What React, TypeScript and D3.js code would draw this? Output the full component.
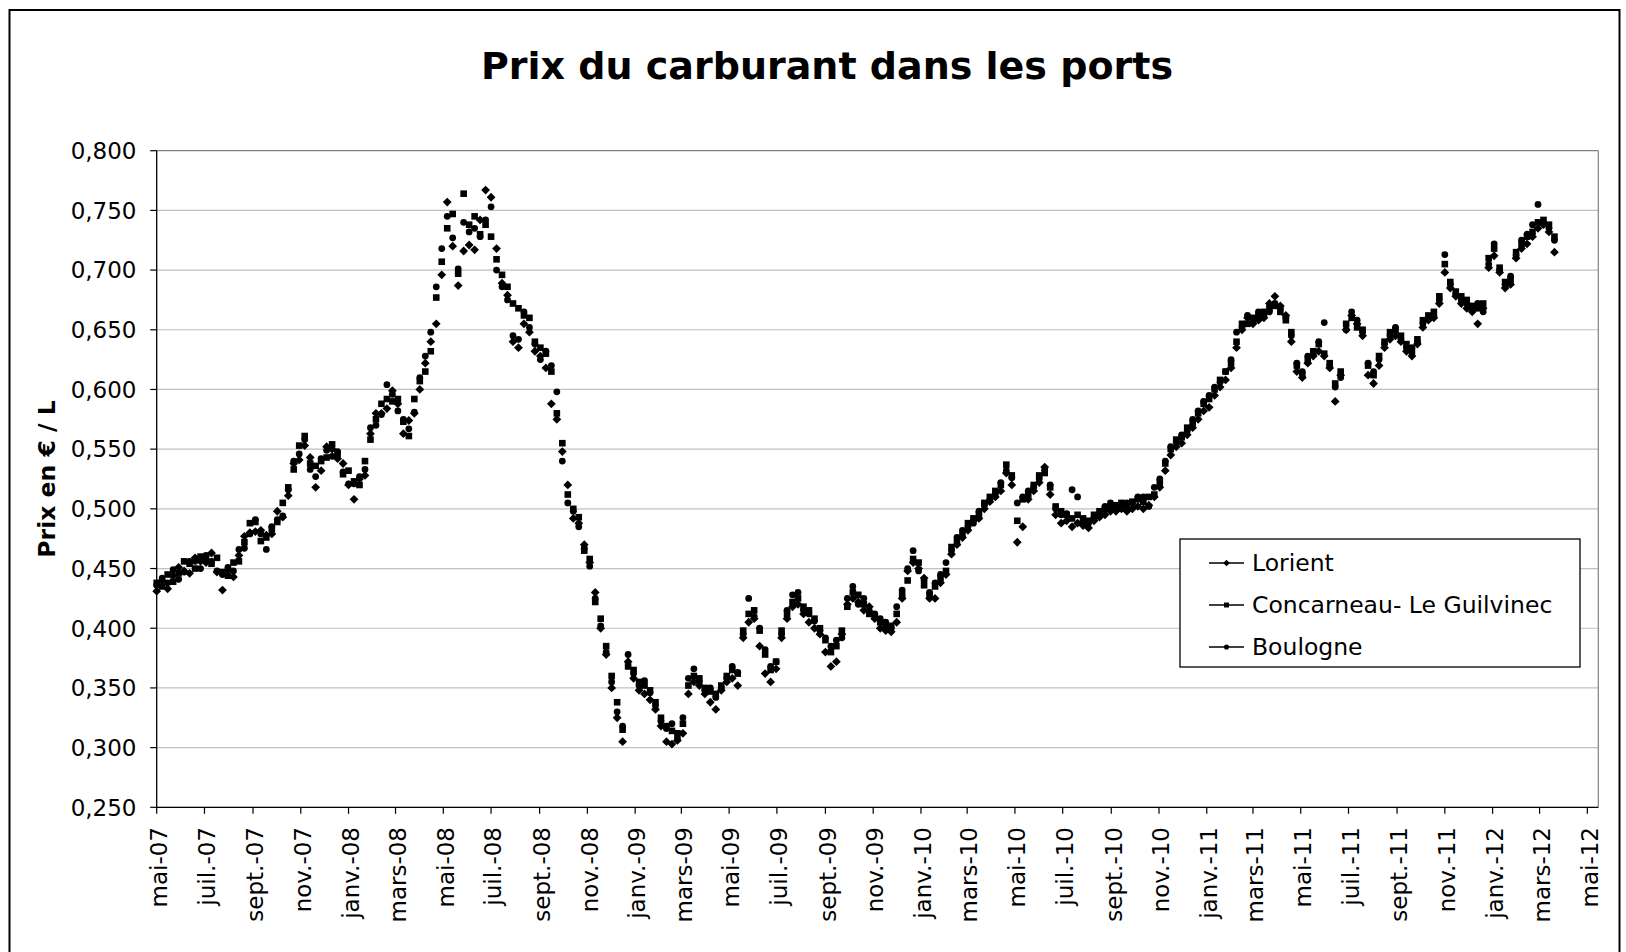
import React from 'react';
import * as d3 from 'd3';

const TITLE = 'Prix du carburant dans les ports';
const Y_LABEL = 'Prix en € / L';
const SERIES_NAMES = ['Lorient', 'Concarneau- Le Guilvinec', 'Boulogne'];
const FIRST_WEEK = new Date(2007, 4, 1);
const X_START = new Date(2007, 4, 1);
const X_END = new Date(2012, 4, 15);
const Y_TICKS = [0.25, 0.3, 0.35, 0.4, 0.45, 0.5, 0.55, 0.6, 0.65, 0.7, 0.75, 0.8];
const MONTH_ABBR = ['janv.', 'févr.', 'mars', 'avr.', 'mai', 'juin', 'juil.', 'août', 'sept.', 'oct.', 'nov.', 'déc.'];

// weekly readings, starting 1 May 2007
const lorient = [
  .431, .440, .433, .444, .451, .448, .446, .459, .456, .455, .463, .447,
  .432, .449, .443, .461, .477, .480, .481, .482, .478, .479, .498, .493,
  .511, .538, .541, .553, .543, .518, .532, .552, .550, .542, .538, .520,
  .508, .525, .528, .563, .580, .580, .584, .599, .588, .563, .574, .580,
  .600, .622, .640, .655, .696, .757, .720, .687, .716, .721, .717, .742, .767, .761, .718, .689, .679,
  .640, .635, .655, .648, .632, .628, .618, .588, .575, .548, .520, .492, .488, .470, .455,
  .430, .400, .378, .350, .325, .305, .372, .358, .348, .345, .340, .332, .318, .305, .303, .306, .312, .345, .355, .352,
  .345, .338, .332, .348, .355, .358, .352, .392, .405, .408, .385, .362, .355, .366, .392, .408, .418, .420, .412, .405,
  .400, .395, .380, .368, .372, .395, .420, .425, .422, .415, .418, .408, .400, .398, .397, .405, .425, .448, .455, .450,
  .442, .425, .425, .438, .445, .462, .470, .476, .482, .490, .492, .500, .506, .510, .515, .530, .520, .472, .485, .508,
  .515, .522, .535, .512, .495, .488, .490, .485, .488, .486, .484, .490, .493, .495, .498, .498, .500, .498, .500, .502,
  .500, .503, .510, .518, .532, .545, .552, .555, .562, .568, .575, .582, .585, .595, .602, .608, .618, .635, .650, .660,
  .655, .658, .660, .672, .678, .670, .662, .640, .615, .610, .622, .628, .632, .628, .618, .590, .612, .650, .662, .655,
  .645, .612, .605, .620, .635, .642, .645, .640, .632, .628, .638, .652, .658, .660, .672, .698, .685, .678, .672, .668,
  .665, .655, .668, .702, .712, .698, .685, .688, .710, .718, .722, .728, .735, .738, .732, .715,
];

const concarneau = [
  .438, .435, .445, .439, .446, .456, .454, .450, .460, .459, .454, .459,
  .447, .444, .455, .456, .472, .488, .489, .473, .476, .483, .489, .505,
  .518, .533, .553, .561, .538, .536, .540, .543, .554, .546, .529, .532,
  .523, .520, .540, .558, .575, .588, .592, .590, .592, .573, .561, .592,
  .607, .615, .632, .677, .707, .735, .747, .697, .764, .738, .745, .730, .738, .728, .709, .696, .686,
  .672, .668, .662, .660, .640, .635, .630, .615, .580, .555, .512, .500, .493, .465, .458,
  .422, .408, .385, .360, .338, .315, .368, .365, .355, .352, .348, .338, .325, .318, .314, .312, .320, .352, .360, .358,
  .350, .347, .345, .352, .360, .365, .362, .398, .412, .415, .398, .378, .365, .372, .398, .412, .422, .425, .418, .415,
  .408, .400, .390, .380, .385, .398, .418, .430, .428, .420, .412, .410, .405, .402, .402, .412, .428, .440, .458, .455,
  .436, .428, .435, .442, .448, .468, .472, .478, .488, .492, .495, .505, .510, .515, .520, .537, .528, .490, .508, .512,
  .520, .528, .530, .518, .502, .498, .495, .492, .495, .492, .490, .495, .498, .500, .502, .503, .505, .502, .506, .508,
  .506, .510, .512, .522, .538, .550, .558, .560, .568, .572, .580, .588, .592, .600, .608, .615, .622, .640, .655, .655,
  .660, .662, .665, .668, .670, .665, .658, .648, .620, .612, .625, .632, .638, .630, .622, .605, .615, .655, .660, .652,
  .650, .620, .612, .628, .640, .648, .650, .645, .638, .632, .642, .658, .662, .665, .678, .705, .690, .682, .678, .675,
  .670, .668, .672, .710, .718, .702, .690, .692, .715, .722, .728, .732, .740, .742, .738, .728,
];

const boulogne = [
  .436, .442, .438, .449, .441, .447, .456, .456, .450, .461, .456, .448,
  .445, .451, .448, .466, .467, .479, .491, .479, .466, .485, .491, .494,
  .516, .540, .546, .558, .533, .527, .542, .549, .544, .548, .531, .521,
  .521, .527, .533, .568, .570, .579, .604, .596, .582, .575, .567, .581,
  .610, .628, .648, .686, .718, .745, .727, .701, .740, .732, .735, .728, .742, .753, .700, .686, .675,
  .645, .642, .665, .652, .638, .625, .632, .620, .598, .540, .505, .498, .485, .467, .452,
  .425, .402, .380, .355, .330, .318, .378, .362, .352, .356, .346, .335, .322, .316, .320, .308, .325, .358, .366, .355,
  .348, .350, .342, .350, .358, .368, .363, .395, .425, .410, .400, .382, .368, .372, .395, .415, .428, .430, .415, .412,
  .406, .398, .392, .385, .390, .392, .425, .435, .420, .425, .415, .412, .408, .405, .400, .418, .432, .450, .465, .448,
  .440, .430, .438, .445, .455, .465, .476, .482, .485, .488, .498, .503, .508, .512, .522, .532, .526, .505, .510, .515,
  .518, .525, .533, .520, .500, .495, .496, .516, .510, .490, .488, .493, .496, .502, .505, .500, .503, .505, .505, .510,
  .510, .502, .518, .525, .540, .552, .556, .562, .565, .575, .582, .590, .595, .602, .606, .615, .625, .648, .652, .662,
  .658, .665, .662, .665, .672, .668, .660, .645, .622, .615, .628, .630, .640, .656, .620, .602, .610, .650, .665, .658,
  .648, .622, .615, .625, .638, .645, .652, .642, .635, .635, .640, .655, .660, .662, .675, .713, .688, .680, .675, .672,
  .668, .672, .665, .705, .722, .700, .688, .695, .712, .725, .730, .738, .755, .740, .735, .725,
];

const W = 1626;
const H = 952;
const PLOT = { left: 156.7, right: 1598.3, top: 150.7, bottom: 807.3 };
const FONT = '"DejaVu Sans", Verdana, sans-serif';

const x = d3.scaleTime().domain([X_START, X_END]).range([PLOT.left, PLOT.right]);
const y = d3.scaleLinear().domain([0.25, 0.8]).range([PLOT.bottom, PLOT.top]);

const weekDate = (i: number) => d3.timeDay.offset(FIRST_WEEK, 7 * i);
const xTicks = d3.timeMonth.every(2)!.range(X_START, d3.timeDay.offset(X_END, 1));
const fmtX = (d: Date) => `${MONTH_ABBR[d.getMonth()]}-${String(d.getFullYear()).slice(2)}`;
const fmtY = (v: number) => d3.format('.3f')(v).replace('.', ',');

function Marker({ kind, cx, cy, s = 1 }: { kind: number; cx: number; cy: number; s?: number }) {
  if (kind === 0) {
    const r = 4.4 * s;
    return <path d={`M${cx},${cy - r}L${cx + r},${cy}L${cx},${cy + r}L${cx - r},${cy}Z`} fill="#000" />;
  }
  if (kind === 1) {
    const h = 3.3 * s;
    return <rect x={cx - h} y={cy - h} width={2 * h} height={2 * h} fill="#000" />;
  }
  return <circle cx={cx} cy={cy} r={3.4 * s} fill="#000" />;
}

export default function App() {
  const series = [lorient, concarneau, boulogne];
  const legendY = [563, 605, 647];
  return (
    <svg width={W} height={H} style={{ position: 'absolute', left: 0, top: 0, background: '#fff' }} fontFamily={FONT}>
      <rect x={0} y={0} width={W} height={H} fill="#fff" />
      <rect x={9.5} y={10} width={1610} height={960} fill="none" stroke="#000" strokeWidth={2} />
      <text x={827} y={79} textAnchor="middle" fontSize={38} fontWeight="bold">{TITLE}</text>

      {/* gridlines */}
      {Y_TICKS.map((t) => (
        <line key={'g' + t} x1={PLOT.left} x2={PLOT.right} y1={y(t)} y2={y(t)}
          stroke={t === 0.8 ? '#808080' : '#c0c0c0'} strokeWidth={1.2} />
      ))}
      <line x1={PLOT.right} x2={PLOT.right} y1={PLOT.top} y2={PLOT.bottom} stroke="#808080" strokeWidth={1.2} />

      {/* axes */}
      <line x1={PLOT.left} x2={PLOT.left} y1={PLOT.top} y2={PLOT.bottom} stroke="#000" strokeWidth={1.3} />
      <line x1={PLOT.left} x2={PLOT.right} y1={PLOT.bottom} y2={PLOT.bottom} stroke="#000" strokeWidth={1.3} />
      {Y_TICKS.map((t) => (
        <g key={'yt' + t}>
          <line x1={PLOT.left - 6.5} x2={PLOT.left} y1={y(t)} y2={y(t)} stroke="#000" strokeWidth={1.2} />
          <text x={136.5} y={y(t)} dy="0.36em" textAnchor="end" fontSize={23}>{fmtY(t)}</text>
        </g>
      ))}
      {xTicks.map((d) => (
        <g key={'xt' + d.getTime()}>
          <line x1={x(d)} x2={x(d)} y1={PLOT.bottom} y2={PLOT.bottom + 6.5} stroke="#000" strokeWidth={1.2} />
          <text transform={`translate(${x(d) + 2},${827}) rotate(-90)`} dy="0.36em" textAnchor="end" fontSize={23}>{fmtX(d)}</text>
        </g>
      ))}
      <text transform={`translate(47,${(PLOT.top + PLOT.bottom) / 2}) rotate(-90)`} dy="0.36em" textAnchor="middle" fontSize={23.5} fontWeight="bold">{Y_LABEL}</text>

      {/* data */}
      {series.map((vals, k) => (
        <g key={'s' + k}>
          {vals.map((v, i) => (
            <Marker key={i} kind={k} cx={x(weekDate(i))} cy={y(v)} />
          ))}
        </g>
      ))}

      {/* legend */}
      <rect x={1180} y={539} width={400} height={128} fill="#fff" stroke="#000" strokeWidth={1.3} />
      {SERIES_NAMES.map((name, k) => (
        <g key={'l' + k}>
          <line x1={1209} x2={1244} y1={legendY[k]} y2={legendY[k]} stroke="#000" strokeWidth={1.3} />
          <Marker kind={k} cx={1226.5} cy={legendY[k]} s={0.75} />
          <text x={1252} y={legendY[k]} dy="0.36em" fontSize={23.5}>{name}</text>
        </g>
      ))}
    </svg>
  );
}
